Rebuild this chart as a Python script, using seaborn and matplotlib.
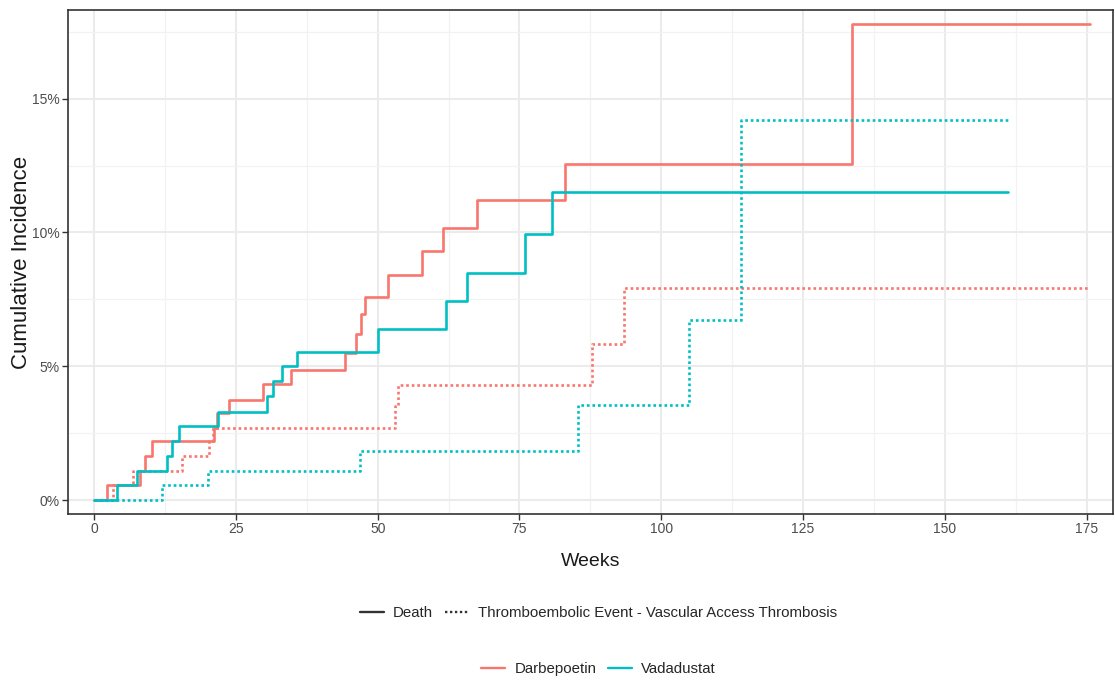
import pandas as pd
import seaborn as sns
import matplotlib
matplotlib.use("Agg")
from matplotlib import pyplot as plt
from matplotlib.lines import Line2D
from matplotlib.ticker import FuncFormatter

# step points (weeks, cumulative incidence in %)
darb_death_wk = [0, 2.2, 8.1, 8.9, 10.2, 21.2, 21.6, 23.7, 29.8, 34.7, 44.2, 46.2, 47.0,
                 47.8, 51.9, 57.8, 61.5, 67.5, 83.0, 133.6, 175.5]
darb_death_ci = [0, 0.55, 1.1, 1.65, 2.2, 2.7, 3.25, 3.75, 4.35, 4.85, 5.5, 6.2, 6.95,
                 7.6, 8.4, 9.3, 10.15, 11.2, 12.55, 17.8, 17.8]

vada_death_wk = [0, 4.0, 7.5, 12.8, 13.7, 14.9, 21.9, 30.4, 31.6, 33.1, 35.7, 50.1, 62.0,
                 65.7, 76.0, 80.8, 161.1]
vada_death_ci = [0, 0.55, 1.1, 1.65, 2.2, 2.75, 3.3, 3.9, 4.45, 5.0, 5.55, 6.4, 7.45,
                 8.5, 9.95, 11.5, 11.5]

darb_vat_wk = [0, 3.4, 6.8, 15.5, 20.3, 21.0, 53.0, 53.6, 87.7, 93.4, 175.5]
darb_vat_ci = [0, 0.55, 1.1, 1.65, 2.2, 2.7, 3.5, 4.3, 5.82, 7.94, 7.94]

vada_vat_wk = [0, 11.9, 20.1, 46.9, 85.4, 104.8, 114.0, 161.1]
vada_vat_ci = [0, 0.55, 1.1, 1.85, 3.55, 6.72, 14.2, 14.2]

arms = ["Darbepoetin", "Vadadustat"]
events = ["Death", "Thromboembolic Event - Vascular Access Thrombosis"]
colors = {"Darbepoetin": "#F8766D", "Vadadustat": "#00BFC4"}
dot = (1, 1.1)

series = [
    (arms[0], events[0], darb_death_wk, darb_death_ci),
    (arms[1], events[0], vada_death_wk, vada_death_ci),
    (arms[0], events[1], darb_vat_wk, darb_vat_ci),
    (arms[1], events[1], vada_vat_wk, vada_vat_ci),
]
frames = []
for arm, event, wk, ci in series:
    frames.append(pd.DataFrame({"week": wk, "ci": ci, "arm": arm, "event": event}))
df = pd.concat(frames, ignore_index=True)

sns.set_theme(style="white")
plt.rcParams["font.family"] = ["Liberation Sans", "DejaVu Sans"]

fig = plt.figure(figsize=(11.15, 6.84), dpi=100)
ax = fig.add_axes([0.061, 0.2485, 0.937, 0.7365])

sns.lineplot(data=df, x="week", y="ci", hue="arm", style="event",
             hue_order=arms, style_order=events, palette=colors,
             dashes={events[0]: "", events[1]: dot},
             estimator=None, drawstyle="steps-post", linewidth=1.9,
             legend=False, ax=ax)

ax.set_xlim(-4.6, 179.6)
ax.set_ylim(-0.52, 18.3)
ax.set_xticks([0, 25, 50, 75, 100, 125, 150, 175])
ax.set_xticks([12.5, 37.5, 62.5, 87.5, 112.5, 137.5, 162.5], minor=True)
ax.set_yticks([0, 5, 10, 15])
ax.set_yticks([2.5, 7.5, 12.5, 17.5], minor=True)
ax.yaxis.set_major_formatter(FuncFormatter(lambda v, p: f"{v:.0f}%"))

ax.grid(which="major", color="#EBEBEB", linewidth=1.5)
ax.grid(which="minor", color="#F2F2F2", linewidth=0.9)
ax.set_axisbelow(True)
for s in ax.spines.values():
    s.set_color("#333333")
    s.set_linewidth(1.2)

ax.tick_params(which="major", length=4, width=1, color="#333333",
               labelcolor="#4D4D4D", labelsize=10, pad=2,
               bottom=True, left=True)
ax.tick_params(which="minor", length=0)

ax.set_xlabel("Weeks", fontsize=14, color="#1A1A1A", labelpad=12)
ax.set_ylabel("Cumulative Incidence", fontsize=16, color="#1A1A1A", labelpad=0)

# legends below the plot
ev_handles = [Line2D([], [], color="#333333", lw=1.7),
              Line2D([], [], color="#333333", lw=1.7, dashes=dot)]
fig.legend(ev_handles, events, loc="center", bbox_to_anchor=(0.537, 0.104),
           ncol=2, frameon=False, fontsize=10.8, handlelength=1.6,
           columnspacing=0.8, handletextpad=0.6)

arm_handles = [Line2D([], [], color=colors[a], lw=1.7) for a in arms]
fig.legend(arm_handles, arms, loc="center", bbox_to_anchor=(0.537, 0.022),
           ncol=2, frameon=False, fontsize=10.8, handlelength=1.6,
           columnspacing=0.8, handletextpad=0.6)

fig.savefig("out.png", dpi=100)
